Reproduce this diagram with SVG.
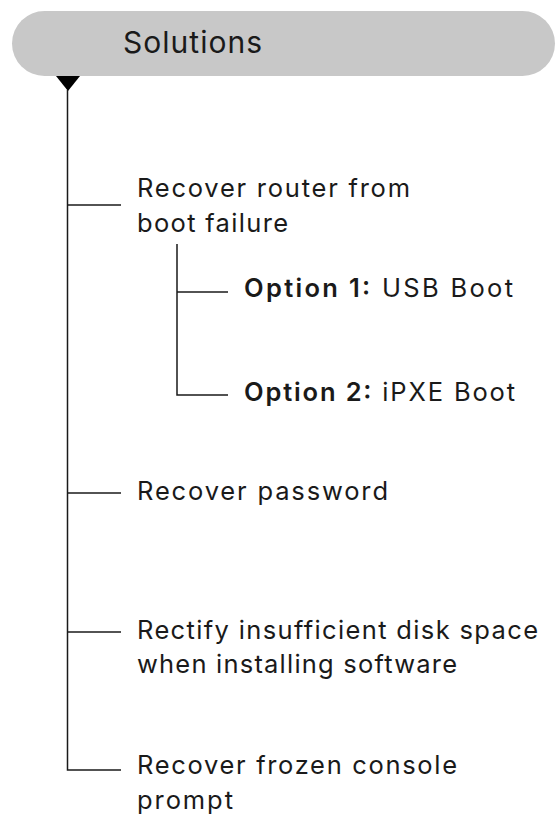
<svg xmlns="http://www.w3.org/2000/svg" width="556" height="816" viewBox="0 0 556 816">
  <style>
    .t { font-family: Inter, "Liberation Sans", sans-serif; font-size: 25.5px; fill: #1a1a1a; }
    .title { font-family: Inter, "Liberation Sans", sans-serif; font-size: 30px; fill: #1a1a1a; }
    .b { font-weight: 600; }
    .ln { stroke: #1a1a1a; stroke-width: 1.5; fill: none; }
  </style>
  <rect width="556" height="816" fill="#ffffff"/>
  <g id="solutions">
    <rect x="12" y="11" width="543" height="65" rx="32.5" ry="32.5" fill="#c8c8c8"/>
    <text class="title" x="123" y="53" textLength="139" lengthAdjust="spacing">Solutions</text>
  </g>
  <g id="connectors">
    <polygon points="56,76 80,76 68,91" fill="#000000"/>
    <path class="ln" d="M67.5,90 V770 H121"/>
    <path class="ln" d="M67.5,205 H121"/>
    <path class="ln" d="M67.5,493 H121"/>
    <path class="ln" d="M67.5,632 H121"/>
    <path class="ln" d="M177,244 V395 H228"/>
    <path class="ln" d="M177,292 H228"/>
  </g>
  <g id="boot-failure">
    <text class="t" x="137" y="197" textLength="273" lengthAdjust="spacing">Recover router from</text>
    <text class="t" x="137" y="232" textLength="151" lengthAdjust="spacing">boot failure</text>
  </g>
  <g id="option1">
    <text class="t" x="244" y="297" textLength="269" lengthAdjust="spacing"><tspan class="b">Option 1:</tspan> USB Boot</text>
  </g>
  <g id="option2">
    <text class="t" x="244" y="401" textLength="271" lengthAdjust="spacing"><tspan class="b">Option 2:</tspan> iPXE Boot</text>
  </g>
  <g id="password">
    <text class="t" x="137" y="500" textLength="251" lengthAdjust="spacing">Recover password</text>
  </g>
  <g id="disk-space">
    <text class="t" x="137" y="639" textLength="401" lengthAdjust="spacing">Rectify insufficient disk space</text>
    <text class="t" x="137" y="673" textLength="320" lengthAdjust="spacing">when installing software</text>
  </g>
  <g id="frozen-console">
    <text class="t" x="137" y="774" textLength="320" lengthAdjust="spacing">Recover frozen console</text>
    <text class="t" x="137" y="809" textLength="96" lengthAdjust="spacing">prompt</text>
  </g>
</svg>
